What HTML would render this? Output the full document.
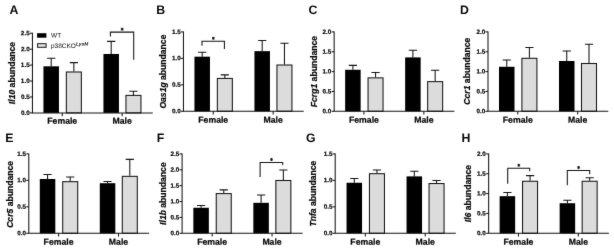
<!DOCTYPE html><html><head><meta charset="utf-8"><style>html,body{margin:0;padding:0;background:#fff}svg{display:block;will-change:transform}text{font-family:"Liberation Sans", sans-serif;font-weight:bold;fill:#0a0a0a;stroke:#0a0a0a;stroke-width:0.22px}.n{stroke:none}</style></head><body>
<svg width="614" height="251" viewBox="0 0 614 251">
<defs><filter id="bl" x="0" y="0" width="614" height="251" filterUnits="userSpaceOnUse" color-interpolation-filters="sRGB"><feConvolveMatrix order="3" kernelMatrix="0.00582 0.06464 0.00582 0.06464 0.71818 0.06464 0.00582 0.06464 0.00582" edgeMode="duplicate" preserveAlpha="true"/></filter></defs><g filter="url(#bl)">
<rect width="614" height="251" fill="#fff"/>
<text class="n" x="9.60" y="14.00" font-size="12.30" text-anchor="start" transform="rotate(0.03 9.6 14.0)">A</text>
<path d="M51.20 66.32V58.18M47.10 58.18H55.30" stroke="#151515" stroke-width="1.05" fill="none"/>
<rect x="43.45" y="66.32" width="15.50" height="46.58" fill="#000"/>
<path d="M73.85 71.49V62.61M69.75 62.61H77.95" stroke="#151515" stroke-width="1.05" fill="none"/>
<rect x="66.35" y="71.99" width="15.00" height="40.91" fill="#dcdcdc" stroke="#151515" stroke-width="1.05"/>
<path d="M111.20 53.99V41.39M107.10 41.39H115.30" stroke="#151515" stroke-width="1.05" fill="none"/>
<rect x="103.45" y="53.99" width="15.50" height="58.91" fill="#000"/>
<path d="M133.45 94.90V91.20M129.35 91.20H137.55" stroke="#151515" stroke-width="1.05" fill="none"/>
<rect x="125.95" y="95.40" width="15.00" height="17.50" fill="#dcdcdc" stroke="#151515" stroke-width="1.05"/>
<path d="M32.45 32.75V112.90H152.75" stroke="#151515" stroke-width="1.05" fill="none"/>
<path d="M29.95 112.90H32.45" stroke="#151515" stroke-width="1.05"/>
<text x="29.65" y="114.90" font-size="6.30" text-anchor="end" transform="rotate(0.03 29.7 114.9)">0.0</text>
<path d="M29.95 96.97H32.45" stroke="#151515" stroke-width="1.05"/>
<text x="29.65" y="98.97" font-size="6.30" text-anchor="end" transform="rotate(0.03 29.7 99.0)">0.5</text>
<path d="M29.95 81.04H32.45" stroke="#151515" stroke-width="1.05"/>
<text x="29.65" y="83.04" font-size="6.30" text-anchor="end" transform="rotate(0.03 29.7 83.0)">1.0</text>
<path d="M29.95 65.11H32.45" stroke="#151515" stroke-width="1.05"/>
<text x="29.65" y="67.11" font-size="6.30" text-anchor="end" transform="rotate(0.03 29.7 67.1)">1.5</text>
<path d="M29.95 49.18H32.45" stroke="#151515" stroke-width="1.05"/>
<text x="29.65" y="51.18" font-size="6.30" text-anchor="end" transform="rotate(0.03 29.7 51.2)">2.0</text>
<path d="M29.95 33.25H32.45" stroke="#151515" stroke-width="1.05"/>
<text x="29.65" y="35.25" font-size="6.30" text-anchor="end" transform="rotate(0.03 29.7 35.2)">2.5</text>
<path d="M62.25 112.90V116.20" stroke="#151515" stroke-width="1.05"/>
<text x="62.25" y="123.80" font-size="8.70" text-anchor="middle" transform="rotate(0.03 62.2 123.8)">Female</text>
<path d="M122.15 112.90V116.20" stroke="#151515" stroke-width="1.05"/>
<text x="122.15" y="123.80" font-size="8.70" text-anchor="middle" transform="rotate(0.03 122.2 123.8)">Male</text>
<text transform="translate(15.45 73.08) rotate(-90)" font-size="8.6" text-anchor="middle"><tspan font-style="italic">Il10</tspan> abundance</text>
<path d="M110.40 36.50V32.10H133.70V59.80" stroke="#151515" stroke-width="1.05" fill="none"/>
<path d="M122.15 27.65L122.15 30.75M120.81 28.43L123.49 29.98M123.49 28.43L120.81 29.98" stroke="#111" stroke-width="0.95" fill="none"/>
<circle cx="122.15" cy="29.20" r="0.8" fill="#111"/>
<rect x="37.1" y="33.2" width="9.3" height="4.5" fill="#000"/>
<rect x="37.6" y="43.7" width="8.5" height="3.6" fill="#e4e4e4" stroke="#151515" stroke-width="1"/>
<text x="51" y="37.4" font-size="6.5" class="n" style="font-weight:normal" transform="rotate(0.03 51 37)">WT</text>
<text x="51" y="48.0" font-size="6.5" class="n" style="font-weight:normal" transform="rotate(0.03 51 48)">p38CKO<tspan font-size="4.8" dy="-2.5" font-style="italic" font-weight="bold">LysM</tspan></text>
<text class="n" x="156.30" y="14.00" font-size="12.30" text-anchor="start" transform="rotate(0.03 156.3 14.0)">B</text>
<path d="M202.20 56.68V52.21M198.10 52.21H206.30" stroke="#151515" stroke-width="1.05" fill="none"/>
<rect x="194.45" y="56.68" width="15.50" height="54.62" fill="#000"/>
<path d="M224.85 77.92V74.89M220.75 74.89H228.95" stroke="#151515" stroke-width="1.05" fill="none"/>
<rect x="217.35" y="78.42" width="15.00" height="32.88" fill="#dcdcdc" stroke="#151515" stroke-width="1.05"/>
<path d="M262.20 51.15V40.50M258.10 40.50H266.30" stroke="#151515" stroke-width="1.05" fill="none"/>
<rect x="254.45" y="51.15" width="15.50" height="60.15" fill="#000"/>
<path d="M284.45 64.51V43.21M280.35 43.21H288.55" stroke="#151515" stroke-width="1.05" fill="none"/>
<rect x="276.95" y="65.01" width="15.00" height="46.29" fill="#dcdcdc" stroke="#151515" stroke-width="1.05"/>
<path d="M183.45 31.40V111.30H303.75" stroke="#151515" stroke-width="1.05" fill="none"/>
<path d="M180.95 111.30H183.45" stroke="#151515" stroke-width="1.05"/>
<text x="180.65" y="113.30" font-size="6.30" text-anchor="end" transform="rotate(0.03 180.6 113.3)">0.0</text>
<path d="M180.95 84.83H183.45" stroke="#151515" stroke-width="1.05"/>
<text x="180.65" y="86.83" font-size="6.30" text-anchor="end" transform="rotate(0.03 180.6 86.8)">0.5</text>
<path d="M180.95 58.37H183.45" stroke="#151515" stroke-width="1.05"/>
<text x="180.65" y="60.37" font-size="6.30" text-anchor="end" transform="rotate(0.03 180.6 60.4)">1.0</text>
<path d="M180.95 31.90H183.45" stroke="#151515" stroke-width="1.05"/>
<text x="180.65" y="33.90" font-size="6.30" text-anchor="end" transform="rotate(0.03 180.6 33.9)">1.5</text>
<path d="M213.25 111.30V114.60" stroke="#151515" stroke-width="1.05"/>
<text x="213.25" y="122.65" font-size="8.70" text-anchor="middle" transform="rotate(0.03 213.2 122.6)">Female</text>
<path d="M273.15 111.30V114.60" stroke="#151515" stroke-width="1.05"/>
<text x="273.15" y="122.65" font-size="8.70" text-anchor="middle" transform="rotate(0.03 273.1 122.6)">Male</text>
<text transform="translate(166.45 71.60) rotate(-90)" font-size="8.6" text-anchor="middle"><tspan font-style="italic">Oas1g</tspan> abundance</text>
<path d="M202.00 45.80V41.20H224.40V49.00" stroke="#151515" stroke-width="1.05" fill="none"/>
<path d="M213.30 36.75L213.30 39.85M211.96 37.53L214.64 39.08M214.64 37.53L211.96 39.08" stroke="#111" stroke-width="0.95" fill="none"/>
<circle cx="213.30" cy="38.30" r="0.8" fill="#111"/>
<text class="n" x="308.60" y="14.00" font-size="12.30" text-anchor="start" transform="rotate(0.03 308.6 14.0)">C</text>
<path d="M352.90 69.78V65.39M348.80 65.39H357.00" stroke="#151515" stroke-width="1.05" fill="none"/>
<rect x="345.15" y="69.78" width="15.50" height="41.52" fill="#000"/>
<path d="M375.55 77.36V72.57M371.45 72.57H379.65" stroke="#151515" stroke-width="1.05" fill="none"/>
<rect x="368.05" y="77.86" width="15.00" height="33.44" fill="#dcdcdc" stroke="#151515" stroke-width="1.05"/>
<path d="M412.90 57.40V50.21M408.80 50.21H417.00" stroke="#151515" stroke-width="1.05" fill="none"/>
<rect x="405.15" y="57.40" width="15.50" height="53.90" fill="#000"/>
<path d="M435.15 81.12V70.34M431.05 70.34H439.25" stroke="#151515" stroke-width="1.05" fill="none"/>
<rect x="427.65" y="81.62" width="15.00" height="29.68" fill="#dcdcdc" stroke="#151515" stroke-width="1.05"/>
<path d="M334.15 31.40V111.30H454.45" stroke="#151515" stroke-width="1.05" fill="none"/>
<path d="M331.65 111.30H334.15" stroke="#151515" stroke-width="1.05"/>
<text x="331.35" y="113.30" font-size="6.30" text-anchor="end" transform="rotate(0.03 331.3 113.3)">0.0</text>
<path d="M331.65 91.45H334.15" stroke="#151515" stroke-width="1.05"/>
<text x="331.35" y="93.45" font-size="6.30" text-anchor="end" transform="rotate(0.03 331.3 93.4)">0.5</text>
<path d="M331.65 71.60H334.15" stroke="#151515" stroke-width="1.05"/>
<text x="331.35" y="73.60" font-size="6.30" text-anchor="end" transform="rotate(0.03 331.3 73.6)">1.0</text>
<path d="M331.65 51.75H334.15" stroke="#151515" stroke-width="1.05"/>
<text x="331.35" y="53.75" font-size="6.30" text-anchor="end" transform="rotate(0.03 331.3 53.7)">1.5</text>
<path d="M331.65 31.90H334.15" stroke="#151515" stroke-width="1.05"/>
<text x="331.35" y="33.90" font-size="6.30" text-anchor="end" transform="rotate(0.03 331.3 33.9)">2.0</text>
<path d="M363.95 111.30V114.60" stroke="#151515" stroke-width="1.05"/>
<text x="363.95" y="122.65" font-size="8.70" text-anchor="middle" transform="rotate(0.03 363.9 122.6)">Female</text>
<path d="M423.85 111.30V114.60" stroke="#151515" stroke-width="1.05"/>
<text x="423.85" y="122.65" font-size="8.70" text-anchor="middle" transform="rotate(0.03 423.8 122.6)">Male</text>
<text transform="translate(317.15 71.60) rotate(-90)" font-size="8.6" text-anchor="middle"><tspan font-style="italic">Fcrg1</tspan> abundance</text>
<text class="n" x="460.00" y="14.00" font-size="12.30" text-anchor="start" transform="rotate(0.03 460.0 14.0)">D</text>
<path d="M506.75 66.78V60.00M502.65 60.00H510.85" stroke="#151515" stroke-width="1.05" fill="none"/>
<rect x="499.00" y="66.78" width="15.50" height="44.52" fill="#000"/>
<path d="M529.40 57.80V47.42M525.30 47.42H533.50" stroke="#151515" stroke-width="1.05" fill="none"/>
<rect x="521.90" y="58.30" width="15.00" height="53.00" fill="#dcdcdc" stroke="#151515" stroke-width="1.05"/>
<path d="M566.75 60.99V51.01M562.65 51.01H570.85" stroke="#151515" stroke-width="1.05" fill="none"/>
<rect x="559.00" y="60.99" width="15.50" height="50.31" fill="#000"/>
<path d="M589.00 62.99V44.23M584.90 44.23H593.10" stroke="#151515" stroke-width="1.05" fill="none"/>
<rect x="581.50" y="63.49" width="15.00" height="47.81" fill="#dcdcdc" stroke="#151515" stroke-width="1.05"/>
<path d="M488.00 31.40V111.30H608.30" stroke="#151515" stroke-width="1.05" fill="none"/>
<path d="M485.50 111.30H488.00" stroke="#151515" stroke-width="1.05"/>
<text x="485.20" y="113.30" font-size="6.30" text-anchor="end" transform="rotate(0.03 485.2 113.3)">0.0</text>
<path d="M485.50 91.45H488.00" stroke="#151515" stroke-width="1.05"/>
<text x="485.20" y="93.45" font-size="6.30" text-anchor="end" transform="rotate(0.03 485.2 93.4)">0.5</text>
<path d="M485.50 71.60H488.00" stroke="#151515" stroke-width="1.05"/>
<text x="485.20" y="73.60" font-size="6.30" text-anchor="end" transform="rotate(0.03 485.2 73.6)">1.0</text>
<path d="M485.50 51.75H488.00" stroke="#151515" stroke-width="1.05"/>
<text x="485.20" y="53.75" font-size="6.30" text-anchor="end" transform="rotate(0.03 485.2 53.7)">1.5</text>
<path d="M485.50 31.90H488.00" stroke="#151515" stroke-width="1.05"/>
<text x="485.20" y="33.90" font-size="6.30" text-anchor="end" transform="rotate(0.03 485.2 33.9)">2.0</text>
<path d="M517.80 111.30V114.60" stroke="#151515" stroke-width="1.05"/>
<text x="517.80" y="122.65" font-size="8.70" text-anchor="middle" transform="rotate(0.03 517.8 122.6)">Female</text>
<path d="M577.70 111.30V114.60" stroke="#151515" stroke-width="1.05"/>
<text x="577.70" y="122.65" font-size="8.70" text-anchor="middle" transform="rotate(0.03 577.7 122.6)">Male</text>
<text transform="translate(470.20 71.20) rotate(-90)" font-size="8.6" text-anchor="middle"><tspan font-style="italic">Ccr1</tspan> abundance</text>
<text class="n" x="5.30" y="142.00" font-size="12.30" text-anchor="start" transform="rotate(0.03 5.3 142.0)">E</text>
<path d="M47.55 178.98V174.46M43.45 174.46H51.65" stroke="#151515" stroke-width="1.05" fill="none"/>
<rect x="39.80" y="178.98" width="15.50" height="54.32" fill="#000"/>
<path d="M70.20 181.16V176.91M66.10 176.91H74.30" stroke="#151515" stroke-width="1.05" fill="none"/>
<rect x="62.70" y="181.66" width="15.00" height="51.64" fill="#dcdcdc" stroke="#151515" stroke-width="1.05"/>
<path d="M107.55 183.19V181.59M103.45 181.59H111.65" stroke="#151515" stroke-width="1.05" fill="none"/>
<rect x="99.80" y="183.19" width="15.50" height="50.11" fill="#000"/>
<path d="M129.80 175.84V159.35M125.70 159.35H133.90" stroke="#151515" stroke-width="1.05" fill="none"/>
<rect x="122.30" y="176.34" width="15.00" height="56.96" fill="#dcdcdc" stroke="#151515" stroke-width="1.05"/>
<path d="M28.80 153.40V233.30H149.10" stroke="#151515" stroke-width="1.05" fill="none"/>
<path d="M26.30 233.30H28.80" stroke="#151515" stroke-width="1.05"/>
<text x="26.00" y="235.30" font-size="6.30" text-anchor="end" transform="rotate(0.03 26.0 235.3)">0.0</text>
<path d="M26.30 206.83H28.80" stroke="#151515" stroke-width="1.05"/>
<text x="26.00" y="208.83" font-size="6.30" text-anchor="end" transform="rotate(0.03 26.0 208.8)">0.5</text>
<path d="M26.30 180.37H28.80" stroke="#151515" stroke-width="1.05"/>
<text x="26.00" y="182.37" font-size="6.30" text-anchor="end" transform="rotate(0.03 26.0 182.4)">1.0</text>
<path d="M26.30 153.90H28.80" stroke="#151515" stroke-width="1.05"/>
<text x="26.00" y="155.90" font-size="6.30" text-anchor="end" transform="rotate(0.03 26.0 155.9)">1.5</text>
<path d="M58.60 233.30V236.60" stroke="#151515" stroke-width="1.05"/>
<text x="58.60" y="244.65" font-size="8.70" text-anchor="middle" transform="rotate(0.03 58.6 244.7)">Female</text>
<path d="M118.50 233.30V236.60" stroke="#151515" stroke-width="1.05"/>
<text x="118.50" y="244.65" font-size="8.70" text-anchor="middle" transform="rotate(0.03 118.5 244.7)">Male</text>
<text transform="translate(12.70 194.40) rotate(-90)" font-size="8.6" text-anchor="middle"><tspan font-style="italic">Ccr5</tspan> abundance</text>
<text class="n" x="156.80" y="142.00" font-size="12.30" text-anchor="start" transform="rotate(0.03 156.8 142.0)">F</text>
<path d="M201.10 207.76V205.53M197.00 205.53H205.20" stroke="#151515" stroke-width="1.05" fill="none"/>
<rect x="193.35" y="207.76" width="15.50" height="25.54" fill="#000"/>
<path d="M223.75 193.08V189.89M219.65 189.89H227.85" stroke="#151515" stroke-width="1.05" fill="none"/>
<rect x="216.25" y="193.58" width="15.00" height="39.72" fill="#dcdcdc" stroke="#151515" stroke-width="1.05"/>
<path d="M261.10 202.82V195.00M257.00 195.00H265.20" stroke="#151515" stroke-width="1.05" fill="none"/>
<rect x="253.35" y="202.82" width="15.50" height="30.48" fill="#000"/>
<path d="M283.35 179.99V169.94M279.25 169.94H287.45" stroke="#151515" stroke-width="1.05" fill="none"/>
<rect x="275.85" y="180.49" width="15.00" height="52.81" fill="#dcdcdc" stroke="#151515" stroke-width="1.05"/>
<path d="M182.10 153.40V233.30H302.65" stroke="#151515" stroke-width="1.05" fill="none"/>
<path d="M179.60 233.30H182.10" stroke="#151515" stroke-width="1.05"/>
<text x="179.30" y="235.30" font-size="6.30" text-anchor="end" transform="rotate(0.03 179.3 235.3)">0.0</text>
<path d="M179.60 217.42H182.10" stroke="#151515" stroke-width="1.05"/>
<text x="179.30" y="219.42" font-size="6.30" text-anchor="end" transform="rotate(0.03 179.3 219.4)">0.5</text>
<path d="M179.60 201.54H182.10" stroke="#151515" stroke-width="1.05"/>
<text x="179.30" y="203.54" font-size="6.30" text-anchor="end" transform="rotate(0.03 179.3 203.5)">1.0</text>
<path d="M179.60 185.66H182.10" stroke="#151515" stroke-width="1.05"/>
<text x="179.30" y="187.66" font-size="6.30" text-anchor="end" transform="rotate(0.03 179.3 187.7)">1.5</text>
<path d="M179.60 169.78H182.10" stroke="#151515" stroke-width="1.05"/>
<text x="179.30" y="171.78" font-size="6.30" text-anchor="end" transform="rotate(0.03 179.3 171.8)">2.0</text>
<path d="M179.60 153.90H182.10" stroke="#151515" stroke-width="1.05"/>
<text x="179.30" y="155.90" font-size="6.30" text-anchor="end" transform="rotate(0.03 179.3 155.9)">2.5</text>
<path d="M212.15 233.30V236.60" stroke="#151515" stroke-width="1.05"/>
<text x="212.15" y="244.65" font-size="8.70" text-anchor="middle" transform="rotate(0.03 212.2 244.7)">Female</text>
<path d="M272.05 233.30V236.60" stroke="#151515" stroke-width="1.05"/>
<text x="272.05" y="244.65" font-size="8.70" text-anchor="middle" transform="rotate(0.03 272.1 244.7)">Male</text>
<text transform="translate(166.35 193.60) rotate(-90)" font-size="8.6" text-anchor="middle"><tspan font-style="italic">Il1b</tspan> abundance</text>
<path d="M260.10 176.90V162.40H282.70V165.10" stroke="#151515" stroke-width="1.05" fill="none"/>
<path d="M271.50 157.95L271.50 161.05M270.16 158.72L272.84 160.28M272.84 158.72L270.16 160.28" stroke="#111" stroke-width="0.95" fill="none"/>
<circle cx="271.50" cy="159.50" r="0.8" fill="#111"/>
<text class="n" x="306.00" y="142.00" font-size="12.30" text-anchor="start" transform="rotate(0.03 306.0 142.0)">G</text>
<path d="M354.30 182.76V178.50M350.20 178.50H358.40" stroke="#151515" stroke-width="1.05" fill="none"/>
<rect x="346.55" y="182.76" width="15.50" height="50.54" fill="#000"/>
<path d="M376.95 173.18V169.99M372.85 169.99H381.05" stroke="#151515" stroke-width="1.05" fill="none"/>
<rect x="369.45" y="173.68" width="15.00" height="59.62" fill="#dcdcdc" stroke="#151515" stroke-width="1.05"/>
<path d="M414.30 176.38V171.22M410.20 171.22H418.40" stroke="#151515" stroke-width="1.05" fill="none"/>
<rect x="406.55" y="176.38" width="15.50" height="56.92" fill="#000"/>
<path d="M436.55 183.03V180.53M432.45 180.53H440.65" stroke="#151515" stroke-width="1.05" fill="none"/>
<rect x="429.05" y="183.53" width="15.00" height="49.77" fill="#dcdcdc" stroke="#151515" stroke-width="1.05"/>
<path d="M335.20 153.40V233.30H455.85" stroke="#151515" stroke-width="1.05" fill="none"/>
<path d="M332.70 233.30H335.20" stroke="#151515" stroke-width="1.05"/>
<text x="332.40" y="235.30" font-size="6.30" text-anchor="end" transform="rotate(0.03 332.4 235.3)">0.0</text>
<path d="M332.70 206.83H335.20" stroke="#151515" stroke-width="1.05"/>
<text x="332.40" y="208.83" font-size="6.30" text-anchor="end" transform="rotate(0.03 332.4 208.8)">0.5</text>
<path d="M332.70 180.37H335.20" stroke="#151515" stroke-width="1.05"/>
<text x="332.40" y="182.37" font-size="6.30" text-anchor="end" transform="rotate(0.03 332.4 182.4)">1.0</text>
<path d="M332.70 153.90H335.20" stroke="#151515" stroke-width="1.05"/>
<text x="332.40" y="155.90" font-size="6.30" text-anchor="end" transform="rotate(0.03 332.4 155.9)">1.5</text>
<path d="M365.35 233.30V236.60" stroke="#151515" stroke-width="1.05"/>
<text x="365.35" y="244.65" font-size="8.70" text-anchor="middle" transform="rotate(0.03 365.4 244.7)">Female</text>
<path d="M425.25 233.30V236.60" stroke="#151515" stroke-width="1.05"/>
<text x="425.25" y="244.65" font-size="8.70" text-anchor="middle" transform="rotate(0.03 425.2 244.7)">Male</text>
<text transform="translate(315.75 193.60) rotate(-90)" font-size="8.6" text-anchor="middle"><tspan font-style="italic">Tnfa</tspan> abundance</text>
<text class="n" x="461.50" y="142.00" font-size="12.30" text-anchor="start" transform="rotate(0.03 461.5 142.0)">H</text>
<path d="M507.40 196.19V192.40M503.30 192.40H511.50" stroke="#151515" stroke-width="1.05" fill="none"/>
<rect x="499.65" y="196.19" width="15.50" height="37.11" fill="#000"/>
<path d="M530.05 180.75V175.64M525.95 175.64H534.15" stroke="#151515" stroke-width="1.05" fill="none"/>
<rect x="522.55" y="181.25" width="15.00" height="52.05" fill="#dcdcdc" stroke="#151515" stroke-width="1.05"/>
<path d="M567.40 203.22V200.22M563.30 200.22H571.50" stroke="#151515" stroke-width="1.05" fill="none"/>
<rect x="559.65" y="203.22" width="15.50" height="30.08" fill="#000"/>
<path d="M589.65 180.75V177.84M585.55 177.84H593.75" stroke="#151515" stroke-width="1.05" fill="none"/>
<rect x="582.15" y="181.25" width="15.00" height="52.05" fill="#dcdcdc" stroke="#151515" stroke-width="1.05"/>
<path d="M488.65 153.40V233.30H608.95" stroke="#151515" stroke-width="1.05" fill="none"/>
<path d="M486.15 233.30H488.65" stroke="#151515" stroke-width="1.05"/>
<text x="485.85" y="235.30" font-size="6.30" text-anchor="end" transform="rotate(0.03 485.8 235.3)">0.0</text>
<path d="M486.15 213.45H488.65" stroke="#151515" stroke-width="1.05"/>
<text x="485.85" y="215.45" font-size="6.30" text-anchor="end" transform="rotate(0.03 485.8 215.5)">0.5</text>
<path d="M486.15 193.60H488.65" stroke="#151515" stroke-width="1.05"/>
<text x="485.85" y="195.60" font-size="6.30" text-anchor="end" transform="rotate(0.03 485.8 195.6)">1.0</text>
<path d="M486.15 173.75H488.65" stroke="#151515" stroke-width="1.05"/>
<text x="485.85" y="175.75" font-size="6.30" text-anchor="end" transform="rotate(0.03 485.8 175.8)">1.5</text>
<path d="M486.15 153.90H488.65" stroke="#151515" stroke-width="1.05"/>
<text x="485.85" y="155.90" font-size="6.30" text-anchor="end" transform="rotate(0.03 485.8 155.9)">2.0</text>
<path d="M518.45 233.30V236.60" stroke="#151515" stroke-width="1.05"/>
<text x="518.45" y="244.65" font-size="8.70" text-anchor="middle" transform="rotate(0.03 518.4 244.7)">Female</text>
<path d="M578.35 233.30V236.60" stroke="#151515" stroke-width="1.05"/>
<text x="578.35" y="244.65" font-size="8.70" text-anchor="middle" transform="rotate(0.03 578.4 244.7)">Male</text>
<text transform="translate(471.05 193.60) rotate(-90)" font-size="8.6" text-anchor="middle"><tspan font-style="italic">Il6</tspan> abundance</text>
<path d="M507.70 183.80V168.20H529.70V171.20" stroke="#151515" stroke-width="1.05" fill="none"/>
<path d="M518.80 163.75L518.80 166.85M517.46 164.52L520.14 166.07M520.14 164.52L517.46 166.07" stroke="#111" stroke-width="0.95" fill="none"/>
<circle cx="518.80" cy="165.30" r="0.8" fill="#111"/>
<path d="M567.30 185.20V170.40H589.70V174.30" stroke="#151515" stroke-width="1.05" fill="none"/>
<path d="M578.60 165.95L578.60 169.05M577.26 166.72L579.94 168.28M579.94 166.72L577.26 168.28" stroke="#111" stroke-width="0.95" fill="none"/>
<circle cx="578.60" cy="167.50" r="0.8" fill="#111"/>
</g></svg></body></html>
